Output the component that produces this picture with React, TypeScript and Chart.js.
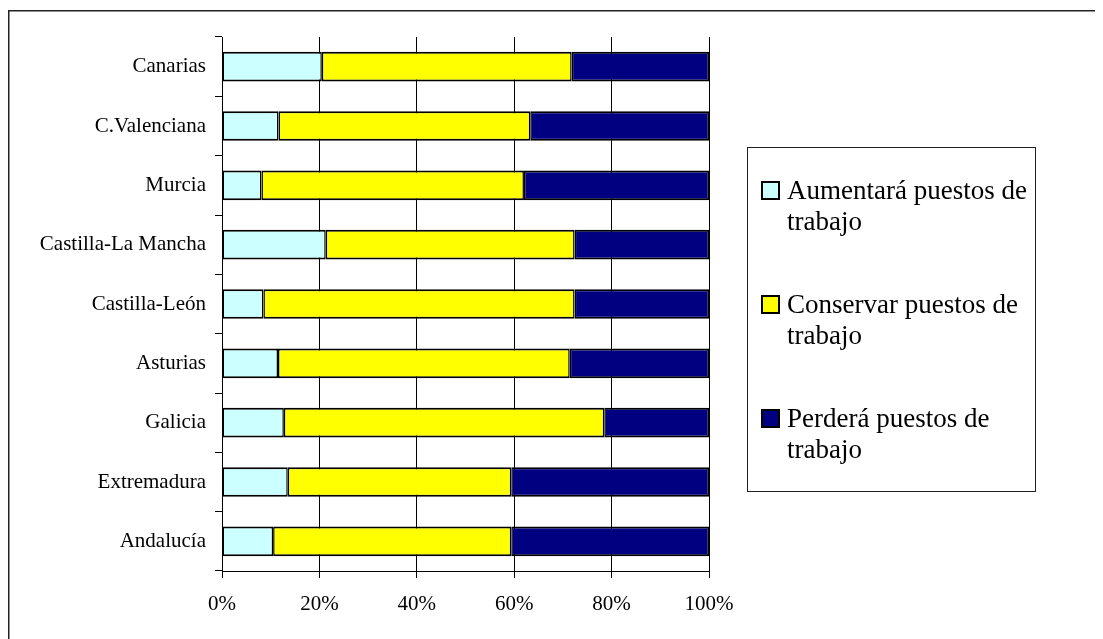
import React, { useEffect, useRef } from "react";
import { Chart, registerables } from "chart.js";

Chart.register(...registerables);

// Regions, top to bottom
const categories = [
  "Canarias",
  "C.Valenciana",
  "Murcia",
  "Castilla-La Mancha",
  "Castilla-León",
  "Asturias",
  "Galicia",
  "Extremadura",
  "Andalucía",
];

// Share of firms (%) for each expectation
const aumentara = [20.5, 11.6, 8.1, 21.3, 8.5, 11.5, 12.7, 13.5, 10.5];
const conservar = [51.3, 51.7, 53.9, 51.1, 63.9, 59.9, 65.8, 45.9, 48.9];
const perdera = [28.2, 36.7, 38.0, 27.6, 27.6, 28.6, 21.5, 40.6, 40.6];

const seriesLabels = [
  ["Aumentará puestos de", "trabajo"],
  ["Conservar puestos de", "trabajo"],
  ["Perderá puestos de", "trabajo"],
];
const seriesColors = ["#CCFFFF", "#FFFF00", "#000080"];

const xTicks = [0, 20, 40, 60, 80, 100];

const SERIF = "'Liberation Serif', 'Times New Roman', serif";

// Frame around the whole chart plus a boxed legend with wrapped labels
const framePlugin = {
  id: "frameAndLegend",
  beforeDraw(chart: any) {
    const { ctx, width, height } = chart;
    ctx.save();
    ctx.fillStyle = "#ffffff";
    ctx.fillRect(0, 0, width, height);
    ctx.strokeStyle = "#222222";
    ctx.lineWidth = 1.5;
    ctx.beginPath();
    ctx.moveTo(0.75, height);
    ctx.lineTo(0.75, 2.75);
    ctx.lineTo(width, 2.75);
    ctx.stroke();
    ctx.restore();
  },
  afterDraw(chart: any) {
    const { ctx } = chart;
    const box = { x: 739.5, y: 139.5, w: 288, h: 344 };
    ctx.save();
    ctx.strokeStyle = "#222222";
    ctx.lineWidth = 1;
    ctx.strokeRect(box.x, box.y, box.w, box.h);
    ctx.font = `27px ${SERIF}`;
    ctx.textBaseline = "alphabetic";
    ctx.textAlign = "left";
    chart.data.datasets.forEach((ds: any, i: number) => {
      const base = 191 + i * 114;
      const sq = 17;
      ctx.fillStyle = ds.backgroundColor;
      ctx.fillRect(754, base - sq, sq, sq);
      ctx.strokeStyle = "#000000";
      ctx.lineWidth = 2;
      ctx.strokeRect(754, base - sq, sq, sq);
      ctx.fillStyle = "#000000";
      const lines: string[] = seriesLabels[i];
      lines.forEach((t, j) => ctx.fillText(t, 779, base + j * 31));
    });
    ctx.restore();
  },
};

export default function App() {
  const canvasRef = useRef<HTMLCanvasElement | null>(null);

  useEffect(() => {
    document.body.style.overflow = "hidden";
    const canvas = canvasRef.current;
    if (!canvas) return;
    const mk = (data: number[], i: number) => ({
      label: seriesLabels[i].join(" "),
      data,
      backgroundColor: seriesColors[i],
      borderColor: "#000000",
      borderWidth: { top: 2, bottom: 2, left: 1.5, right: 1.5 },
      borderSkipped: false,
      barPercentage: 0.5,
      categoryPercentage: 1,
    });
    const chart = new Chart(canvas, {
      type: "bar",
      data: {
        labels: categories,
        datasets: [mk(aumentara, 0), mk(conservar, 1), mk(perdera, 2)],
      },
      options: {
        indexAxis: "y",
        animation: false,
        responsive: false,
        maintainAspectRatio: false,
        layout: { padding: { left: 0, right: 394, top: 29, bottom: 8 } },
        plugins: {
          legend: { display: false },
          tooltip: { enabled: false },
        },
        scales: {
          x: {
            stacked: true,
            min: 0,
            max: 100,
            afterBuildTicks(scale: any) {
              scale.ticks = xTicks.map((v) => ({ value: v }));
            },
            afterFit(scale: any) {
              scale.height = 60;
            },
            grid: {
              color: "#000000",
              lineWidth: 1,
              drawTicks: true,
              tickLength: 7,
            },
            border: { display: true, color: "#000000", width: 1 },
            ticks: {
              color: "#000000",
              font: { family: SERIF, size: 21 },
              padding: 14,
              maxRotation: 0,
              autoSkip: false,
              callback: (v: any) => `${v}%`,
            },
          },
          y: {
            stacked: true,
            afterFit(scale: any) {
              scale.width = 214;
            },
            grid: {
              offset: true,
              drawOnChartArea: false,
              drawTicks: true,
              tickLength: 7,
              color: "#000000",
            },
            border: { display: true, color: "#000000", width: 1 },
            ticks: {
              color: "#000000",
              font: { family: SERIF, size: 21 },
              padding: 9,
              autoSkip: false,
            },
          },
        },
      },
      plugins: [framePlugin],
    });
    return () => chart.destroy();
  }, []);

  return (
    <div style={{ width: 1095, height: 631 }}>
      <canvas ref={canvasRef} width={1095} height={631} style={{ display: "block" }} />
    </div>
  );
}
